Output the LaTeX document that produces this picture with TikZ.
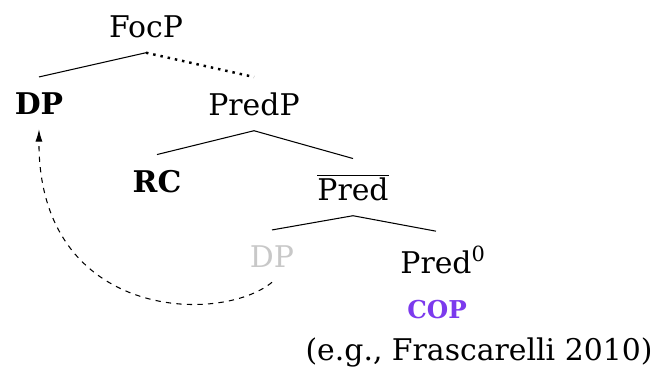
\documentclass[tikz,border=0pt]{standalone}
\usepackage{fontspec}
\setmainfont{DejaVu Serif}
\usetikzlibrary{arrows.meta}
\definecolor{copviolet}{HTML}{7C3AED}
\definecolor{tracegray}{HTML}{C8C8C8}
\begin{document}
\begin{tikzpicture}[x=0.02cm,y=-0.02cm,
    cat/.style={anchor=base,inner xsep=2pt,inner ysep=8.5pt,
                font=\fontsize{17}{20}\selectfont},
    branch/.style={line width=0.6pt},
    move/.style={line width=0.6pt,dashed,-{Latex[length=7pt,width=4pt]}}]
  \useasboundingbox (0,0) rectangle (658,373);
  % tree nodes
  \node[cat] (focp) at (146,37) {FocP};
  \node[cat,font=\fontsize{17}{20}\selectfont\bfseries] (dp) at (39,114) {DP};
  \node[cat] (predp) at (254,115) {PredP};
  \node[cat,font=\fontsize{17}{20}\selectfont\bfseries] (rc) at (157,192) {RC};
  \node[cat] (predbar) at (353,200) {$\overline{\mbox{Pred}}$};
  \node[cat,text=tracegray] (dpg) at (272,267) {DP};
  \node[cat] (pred) at (436,273) {Pred\rlap{\textsuperscript{0}}};
  \node[cat,text=copviolet,font=\fontsize{14}{16}\selectfont\bfseries]
    (cop) at (437,318) {COP};
  \node[cat] (cite) at (479,360) {(e.g., Frascarelli 2010)};
  % branches
  \draw[branch] (focp.south) -- (dp.north);
  \draw[branch,line width=1.4pt,dash pattern=on 1.4pt off 2.8pt]
    (focp.south) -- (predp.north);
  \draw[branch] (predp.south) -- (rc.north);
  \draw[branch] (predp.south) -- (predbar.north);
  \draw[branch] (predbar.south) -- (dpg.north);
  \draw[branch] (predbar.south) -- (pred.north);
  % movement
  \draw[move] (dpg.south)
    .. controls (220,325) and (38,320) .. (dp.south);
\end{tikzpicture}
\end{document}
